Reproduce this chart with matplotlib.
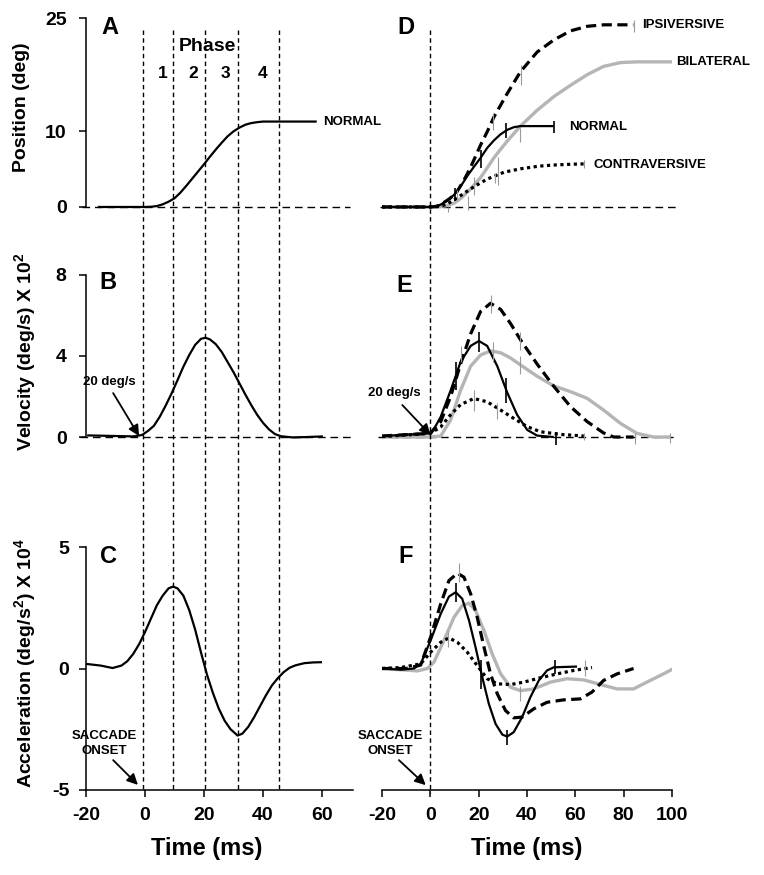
import matplotlib
matplotlib.use("Agg")
import matplotlib.pyplot as plt
import matplotlib.transforms as mtransforms
from matplotlib.lines import Line2D

plt.rcParams["font.family"] = ["Liberation Sans", "DejaVu Sans"]
plt.rcParams["font.weight"] = "bold"
plt.rcParams["axes.unicode_minus"] = False
plt.rcParams["mathtext.fontset"] = "custom"
plt.rcParams["mathtext.rm"] = "Liberation Sans:bold"
plt.rcParams["mathtext.it"] = "Liberation Sans:bold"
plt.rcParams["mathtext.bf"] = "Liberation Sans:bold"

# ---- data ----
PHASE_BOUNDS = [-0.8, 9.6, 20.4, 31.5, 45.4]
PHASE_NAMES = ["1", "2", "3", "4"]
PHASE_LABEL_T = [6.1, 16.3, 27.1, 39.7]

# left column: normal saccade
A_T = [-16, -5, 0, 2, 4, 6, 8, 10, 12, 14, 16, 18, 20, 22, 24, 26, 28, 30, 32, 34, 36, 38, 40, 43, 46, 58.2]
A_Y = [0, 0, 0, 0.03, 0.12, 0.35, 0.7, 1.15, 1.9, 2.8, 3.75, 4.7, 5.65, 6.65, 7.6, 8.5, 9.35, 10.0,
       10.5, 10.88, 11.1, 11.22, 11.3, 11.3, 11.3, 11.3]
B_T = [-19.6, -10, -4, -1, 1, 3, 5, 7, 9, 11, 13, 15, 17, 19, 20.5, 22, 24, 26, 28, 30, 32, 34, 36, 38,
       40, 42, 44, 46, 50, 55, 60.3]
B_V = [0.08, 0.05, 0.03, 0.1, 0.3, 0.55, 1.0, 1.55, 2.15, 2.8, 3.47, 4.05, 4.55, 4.85, 4.9, 4.82, 4.58,
       4.2, 3.7, 3.2, 2.65, 2.1, 1.58, 1.1, 0.7, 0.38, 0.15, 0.04, -0.02, 0.0, 0.03]
C_T = [-20, -15, -11, -8, -6, -4, -2, 0, 2, 4, 6, 8, 9.5, 11, 13, 15, 17, 19, 21, 23, 25, 27, 29, 31.4,
       33, 35, 37, 39, 41, 43, 45, 47, 49, 51, 54, 57, 60]
C_A = [0.19, 0.12, 0.02, 0.12, 0.3, 0.6, 1.0, 1.5, 2.05, 2.6, 3.0, 3.3, 3.37, 3.3, 3.0, 2.4, 1.6, 0.65,
       -0.25, -1.0, -1.65, -2.15, -2.5, -2.76, -2.68, -2.4, -2.0, -1.55, -1.1, -0.7, -0.4, -0.15, 0.03,
       0.13, 0.22, 0.25, 0.26]

# right column: four groups
D_NORM_T = [-20, 0, 2, 4.2, 7, 9.8, 12.5, 15.3, 18, 20.8, 23.5, 26.3, 29, 31.8, 34.5, 37.3, 40, 44, 51]
D_NORM_Y = [0, 0, 0.05, 0.3, 0.85, 1.6, 2.7, 4.1, 5.3, 6.5, 7.8, 8.8, 9.6, 10.2, 10.55, 10.7, 10.7, 10.7, 10.7]
D_IPSI_T = [-20, 0, 2, 4, 8, 11, 14, 16.6, 20.8, 23.6, 26.3, 31.8, 37.3, 44.2, 51.1, 58, 64.9, 71.7, 84]
D_IPSI_Y = [0, 0, 0.05, 0.25, 1.1, 2.0, 3.6, 5.2, 8.2, 10.0, 11.9, 15.0, 17.9, 20.5, 22.1, 23.3, 23.9, 24.1, 24.1]
D_BILAT_T = [-20, 0, 4, 7, 9.8, 12.5, 16.7, 20.8, 23.6, 26.3, 29, 31.8, 34.5, 37.3, 44.2, 51.1, 58, 64.9,
             71.7, 78.6, 85.5, 100.5]
D_BILAT_Y = [0, 0, 0.02, 0.2, 0.5, 1.1, 2.4, 3.9, 5.2, 6.5, 7.6, 8.7, 9.7, 10.7, 12.8, 14.6, 16.1, 17.5,
             18.6, 19.1, 19.2, 19.2]
D_CONTRA_T = [-20, 0, 3, 5, 7, 9.8, 12.5, 16.7, 20.8, 23.6, 26.3, 30.5, 37.3, 44.9, 51, 58, 63.5]
D_CONTRA_Y = [0, 0, 0.05, 0.15, 0.4, 0.93, 1.5, 2.4, 3.2, 3.7, 4.05, 4.6, 5.05, 5.4, 5.55, 5.65, 5.7]

E_NORM_T = [-20, 0, 2, 4.3, 8.4, 12.5, 16.7, 20.1, 23.5, 27.7, 31.8, 35.9, 40.1, 44.2, 51.1]
E_NORM_V = [0.05, 0.18, 0.5, 1.0, 2.3, 3.7, 4.5, 4.74, 4.5, 3.5, 2.2, 1.1, 0.35, 0.07, 0.0]
E_IPSI_T = [-20, 0, 4.3, 8.4, 12.5, 16.7, 20.8, 24.9, 29.1, 33.2, 37.3, 44.2, 51.1, 58, 64.9, 71.7, 75.9, 84.1]
E_IPSI_V = [0.05, 0.18, 0.76, 2.0, 3.6, 5.1, 6.2, 6.6, 6.3, 5.6, 4.8, 3.6, 2.5, 1.5, 0.76, 0.2, 0, 0]
E_BILAT_T = [-20, 0, 4.3, 8.4, 12.5, 16.7, 20.8, 24.9, 29.1, 33.2, 37.3, 44.2, 51.1, 58, 64.9, 71.7,
             78.6, 85.5, 92.4, 98.6]
E_BILAT_V = [0, 0, 0.05, 0.84, 2.3, 3.5, 4.05, 4.25, 4.16, 3.9, 3.56, 3.0, 2.52, 2.24, 1.91, 1.33, 0.68,
             0.18, 0, 0]
E_CONTRA_T = [-20, 0, 4.3, 8.4, 12.5, 18, 23.5, 29.1, 34.5, 40.1, 45.6, 53.8, 63.5]
E_CONTRA_V = [0.02, 0.18, 0.5, 1.1, 1.6, 1.9, 1.74, 1.33, 0.92, 0.51, 0.26, 0.13, 0.05]

F_NORM_T = [-20, -12.3, -6.8, -4, 0.1, 4.3, 7.7, 10.5, 13.2, 16, 18.7, 21.5, 24.2, 27, 29.8, 31.8, 34.5,
            38, 41.4, 44.9, 48.3, 51.1, 60.7]
F_NORM_A = [0, -0.05, 0, 0.19, 1.15, 2.25, 2.96, 3.14, 2.87, 1.98, 0.88, -0.36, -1.45, -2.28, -2.72,
            -2.8, -2.62, -2.0, -1.18, -0.49, -0.08, 0.05, 0.08]
F_IPSI_T = [-20, -10, -4, 0.1, 4.3, 7.7, 11.2, 13.9, 16.7, 19.4, 22.2, 24.9, 27.7, 31.1, 34.5, 38, 42.8,
            48.3, 55.2, 62.1, 66.9, 71.7, 77.3, 84.1]
F_IPSI_A = [0, 0, 0.14, 1.29, 2.66, 3.62, 3.92, 3.76, 3.07, 2.11, 0.88, -0.22, -1.04, -1.73, -2.03, -2.0,
            -1.66, -1.39, -1.29, -1.25, -0.97, -0.49, -0.22, 0.0]
F_BILAT_T = [-20, -12.3, -5.4, -1.2, 1.5, 5.6, 9.8, 13.2, 16, 18.7, 22.2, 25.6, 29.1, 33.2, 37.3, 42.8,
             49.7, 56.6, 63.5, 70.4, 77.3, 84.1, 91, 96.5, 100.7]
F_BILAT_A = [0, -0.05, -0.1, 0, 0.26, 1.15, 2.11, 2.59, 2.69, 2.39, 1.56, 0.6, -0.22, -0.77, -0.91, -0.84,
             -0.56, -0.42, -0.47, -0.66, -0.84, -0.84, -0.49, -0.22, 0]
F_CONTRA_T = [-20, -12.3, -4, 0.1, 4.3, 7.7, 11.2, 15.3, 19.4, 23.5, 27.7, 33.2, 38.7, 45.6, 52.5, 59.3, 66.9]
F_CONTRA_A = [0, 0.04, 0.19, 0.67, 1.08, 1.26, 1.08, 0.67, 0.12, -0.42, -0.63, -0.66, -0.56, -0.38,
              -0.22, -0.08, 0.04]

# error-bar ticks: (time, low, high)
D_ERR_NORM = [(10, 0.8, 2.5), (20.8, 5.2, 7.6), (31.5, 9.1, 11.1), (51.3, 9.8, 11.4)]
D_ERR_OTHER = [(11.1, 0.9, 2.2), (26, 10.2, 12.4), (37.7, 16.1, 18.8), (84.1, 23.2, 24.7),
               (15.7, -0.4, 1.4), (28, 2.9, 6.6), (37.3, 8.6, 10.4), (100.5, 18.6, 19.8),
               (7.4, -0.6, 0.0), (18.1, 1.6, 4.0), (26.6, 3.2, 4.5), (63.5, 5.2, 6.2)]
E_ERR_NORM = [(10.5, 2.3, 3.7), (20.1, 4.2, 5.2), (31.4, 1.7, 2.9), (51.8, -0.4, 0.26)]
E_ERR_OTHER = [(12.5, 3.7, 4.5), (24.9, 6.1, 7.0), (37.3, 4.3, 5.2), (84.5, -0.35, 0.18),
               (25.8, 3.7, 4.7), (37.1, 3.1, 4.0), (99, -0.3, 0.2),
               (18, 1.3, 2.3), (27.5, 0.9, 1.7), (63.5, -0.15, 0.18)]
F_ERR_NORM = [(10.5, 2.73, 3.51), (20.8, -0.84, 0.33), (31.8, -3.13, -2.52), (51.4, -0.22, 0.33)]
F_ERR_OTHER = [(11.8, 3.55, 4.33), (37.3, -1.32, -0.7), (100.7, -0.29, 0.26), (7.4, 0.88, 1.56),
               (63.8, -0.29, 0.33)]

# ---- layout (pixels of the 764x875 canvas) ----
W, H = 764, 875


def rect(x0, y0, x1, y1):
    return [x0 / W, 1 - y1 / H, (x1 - x0) / W, (y1 - y0) / H]


fig = plt.figure(figsize=(W / 100, H / 100), dpi=100)
rows = [(10, 262, (-7.28, 26.06)), (262, 530, (-4.59, 8.64)), (530, 790, (-5, 5.7))]
left_axes, right_axes = [], []
for (y0, y1, yl) in rows:
    axl = fig.add_axes(rect(86, y0, 353, y1))
    axl.set_xlim(-20, 70.5)
    axl.set_ylim(*yl)
    axr = fig.add_axes(rect(382, y0, 672, y1))
    axr.set_xlim(-20, 100)
    axr.set_ylim(*yl)
    for ax in (axl, axr):
        ax.patch.set_visible(False)
        for s in ("top", "right", "left", "bottom"):
            ax.spines[s].set_visible(False)
        ax.tick_params(bottom=False, labelbottom=False, left=False, labelleft=False)
    left_axes.append(axl)
    right_axes.append(axr)

axA, axB, axC = left_axes
axD, axE, axF = right_axes

for ax, ticks, lo, hi in ((axA, [0, 10, 25], 0, 25), (axB, [0, 4, 8], 0, 8), (axC, [-5, 0, 5], -5, 5)):
    ax.spines["left"].set_visible(True)
    ax.spines["left"].set_bounds(lo, hi)
    ax.spines["left"].set_linewidth(1.1)
    ax.set_yticks(ticks)
    ax.tick_params(left=True, labelleft=True, length=5, width=1.1, pad=9, labelsize=14)

for ax, ticks in ((axC, [-20, 0, 20, 40, 60]), (axF, [-20, 0, 20, 40, 60, 80, 100])):
    ax.spines["bottom"].set_visible(True)
    ax.spines["bottom"].set_linewidth(1.1)
    ax.set_xticks(ticks)
    ax.tick_params(bottom=True, labelbottom=True, length=5, width=1.1, pad=7, labelsize=14)

# zero reference lines
ZDASH = (0, (5.5, 3.5))
axA.axhline(0, xmin=-0.015, xmax=0.99, color="black", lw=1.0, ls=ZDASH, clip_on=False)
axB.axhline(0, xmin=-0.022, xmax=0.996, color="black", lw=1.0, ls=ZDASH, clip_on=False)
axD.axhline(0, xmin=-0.007, xmax=1.017, color="black", lw=1.0, ls=ZDASH, clip_on=False)
axE.axhline(0, xmin=-0.014, xmax=1.01, color="black", lw=1.0, ls=ZDASH, clip_on=False)

# vertical phase / onset lines across all three rows
VDASH = (0, (3.2, 2.4))
trL = mtransforms.blended_transform_factory(axC.transData, fig.transFigure)
for t in PHASE_BOUNDS:
    fig.add_artist(Line2D([t, t], [1 - 30 / H, 1 - 790 / H], transform=trL,
                          color="black", lw=1.0, ls=VDASH))
trR = mtransforms.blended_transform_factory(axF.transData, fig.transFigure)
fig.add_artist(Line2D([0, 0], [1 - 30 / H, 1 - 793 / H], transform=trR,
                      color="black", lw=1.0, ls=VDASH))

# curve styles
GRAY = "#b5b5b5"
S_NORM = dict(color="black", lw=1.6, solid_capstyle="butt")
S_IPSI = dict(color="black", lw=2.3, ls=(0, (3.2, 1.7)))
S_BILAT = dict(color=GRAY, lw=2.4)
S_CONTRA = dict(color="black", lw=2.3, ls=(0, (1, 1.1)))

axA.plot(A_T, A_Y, **S_NORM)
axB.plot(B_T, B_V, **S_NORM)
axC.plot(C_T, C_A, **S_NORM)

for ax, (bt, by), (ct, cy), (it, iy), (nt, ny) in (
        (axD, (D_BILAT_T, D_BILAT_Y), (D_CONTRA_T, D_CONTRA_Y), (D_IPSI_T, D_IPSI_Y), (D_NORM_T, D_NORM_Y)),
        (axE, (E_BILAT_T, E_BILAT_V), (E_CONTRA_T, E_CONTRA_V), (E_IPSI_T, E_IPSI_V), (E_NORM_T, E_NORM_V)),
        (axF, (F_BILAT_T, F_BILAT_A), (F_CONTRA_T, F_CONTRA_A), (F_IPSI_T, F_IPSI_A), (F_NORM_T, F_NORM_A))):
    ax.plot(bt, by, **S_BILAT)
    ax.plot(ct, cy, **S_CONTRA)
    ax.plot(it, iy, **S_IPSI)
    ax.plot(nt, ny, **S_NORM)

for ax, err_n, err_o in ((axD, D_ERR_NORM, D_ERR_OTHER), (axE, E_ERR_NORM, E_ERR_OTHER),
                         (axF, F_ERR_NORM, F_ERR_OTHER)):
    ax.vlines([e[0] for e in err_o], [e[1] for e in err_o], [e[2] for e in err_o],
              color="#9a9a9a", lw=0.8)
    ax.vlines([e[0] for e in err_n], [e[1] for e in err_n], [e[2] for e in err_n],
              color="black", lw=1.2)

# panel letters
for ax, letter, (x, y) in ((axA, "A", (-11.9, 23.8)), (axB, "B", (-12.5, 7.65)), (axC, "C", (-12.5, 4.59)),
                           (axD, "D", (-10.2, 23.8)), (axE, "E", (-11.0, 7.5)), (axF, "F", (-10.2, 4.59))):
    ax.text(x, y, letter, fontsize=17, fontweight="bold", ha="center", va="center")

# phase annotation
axA.text(21.0, 21.2, "Phase", fontsize=14, fontweight="bold", ha="center", va="center")
for t, name in zip(PHASE_LABEL_T, PHASE_NAMES):
    axA.text(t, 17.7, name, fontsize=12.5, fontweight="bold", ha="center", va="center")

# curve labels
LBL = dict(fontsize=9.5, fontweight="bold", va="center", ha="left", clip_on=False)
axA.text(60.3, 11.2, "NORMAL", **LBL)
axD.text(87.7, 24.1, "IPSIVERSIVE", **LBL)
axD.text(101.9, 19.2, "BILATERAL", **LBL)
axD.text(57.6, 10.6, "NORMAL", **LBL)
axD.text(67.4, 5.56, "CONTRAVERSIVE", **LBL)

# arrows
ARW = dict(arrowstyle="-|>", color="black", lw=1.3, mutation_scale=16, shrinkA=0, shrinkB=0)
axB.text(-12.2, 2.72, "20 deg/s", fontsize=9.5, fontweight="bold", ha="center", va="center")
axB.annotate("", xy=(-2.0, 0.05), xytext=(-10.8, 2.17), arrowprops=ARW)
axE.text(-14.8, 2.17, "20 deg/s", fontsize=9.5, fontweight="bold", ha="center", va="center")
axE.annotate("", xy=(0.1, 0.1), xytext=(-11.6, 1.58), arrowprops=ARW)
axC.text(-13.9, -3.09, "SACCADE\nONSET", fontsize=9.5, fontweight="bold", ha="center", va="center",
         linespacing=1.25)
axC.annotate("", xy=(-2.4, -4.79), xytext=(-10.8, -3.77), arrowprops=ARW)
axF.text(-16.4, -3.09, "SACCADE\nONSET", fontsize=9.5, fontweight="bold", ha="center", va="center",
         linespacing=1.25)
axF.annotate("", xy=(-1.9, -4.8), xytext=(-13.0, -3.77), arrowprops=ARW)

# axis titles
fig.text(207 / W, 1 - 848 / H, "Time (ms)", fontsize=17, fontweight="bold", ha="center", va="center")
fig.text(527 / W, 1 - 848 / H, "Time (ms)", fontsize=17, fontweight="bold", ha="center", va="center")
fig.text(22 / W, 1 - 107 / H, "Position (deg)", fontsize=14, fontweight="bold", rotation=90,
         ha="center", va="center")
fig.text(25 / W, 1 - 352 / H, r"Velocity (deg/s) X 10$^{2}$", fontsize=14, fontweight="bold",
         rotation=90, ha="center", va="center")
fig.text(25 / W, 1 - 663 / H, r"Acceleration (deg/s$^{2}$) X 10$^{4}$", fontsize=14, fontweight="bold",
         rotation=90, ha="center", va="center")

fig.savefig("out.png", dpi=100)
